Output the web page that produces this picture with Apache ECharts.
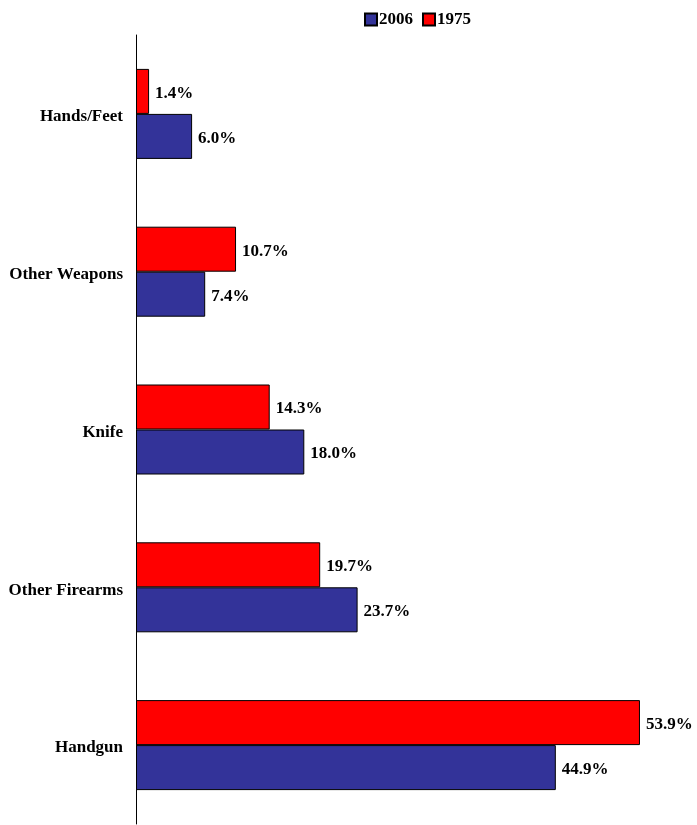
<!DOCTYPE html>
<html>
<head>
<meta charset="utf-8">
<script src="https://cdn.jsdelivr.net/npm/echarts@6/dist/echarts.min.js"></script>
<style>
html,body{margin:0;padding:0;background:#fff;}
#chart{width:697px;height:825px;}
</style>
</head>
<body>
<div id="chart"></div>
<script>
const categories = ['Handgun', 'Other Firearms', 'Knife', 'Other Weapons', 'Hands/Feet'];
const values2006 = [44.9, 23.7, 18.0, 7.4, 6.0];
const values1975 = [53.9, 19.7, 14.3, 10.7, 1.4];
const seriesNames = ['2006', '1975'];

const chart = echarts.init(document.getElementById('chart'));
const font = '"Liberation Serif", "Times New Roman", serif';
const labelStyle = {
  show: true,
  position: 'right',
  distance: 6,
  offset: [0, 2],
  formatter: p => p.value.toFixed(1) + '%',
  fontFamily: font,
  fontWeight: 'bold',
  fontSize: 17,
  color: '#000'
};
chart.setOption({
  animation: false,
  legend: {
    data: seriesNames,
    top: 6,
    left: 359,
    itemWidth: 12,
    itemHeight: 12,
    itemGap: 9,
    icon: 'rect',
    textStyle: { fontFamily: font, fontWeight: 'bold', fontSize: 17, color: '#000', padding: [0, 0, 0, -3] }
  },
  grid: { left: 136, top: 35, width: 562, bottom: 1, containLabel: false },
  xAxis: {
    type: 'value',
    min: 0,
    max: 60,
    show: false
  },
  yAxis: {
    type: 'category',
    data: categories,
    axisLine: { show: true, lineStyle: { color: '#000', width: 1 } },
    axisTick: { show: false },
    axisLabel: {
      margin: 13,
      formatter: v => '{a|' + v + '}',
      rich: { a: { fontFamily: font, fontWeight: 'bold', fontSize: 17, color: '#000', padding: [6, 0, 0, 0] } }
    },
    splitLine: { show: false }
  },
  series: [
    {
      name: seriesNames[1],
      type: 'bar',
      data: values1975,
      barWidth: 45,
      barGap: '0%',
      itemStyle: { color: '#FF0000', borderColor: '#000', borderWidth: 1 },
      label: labelStyle
    },
    {
      name: seriesNames[0],
      type: 'bar',
      data: values2006,
      barWidth: 45,
      barGap: '0%',
      itemStyle: { color: '#333399', borderColor: '#000', borderWidth: 1 },
      label: labelStyle
    }
  ]
});
</script>
</body>
</html>
